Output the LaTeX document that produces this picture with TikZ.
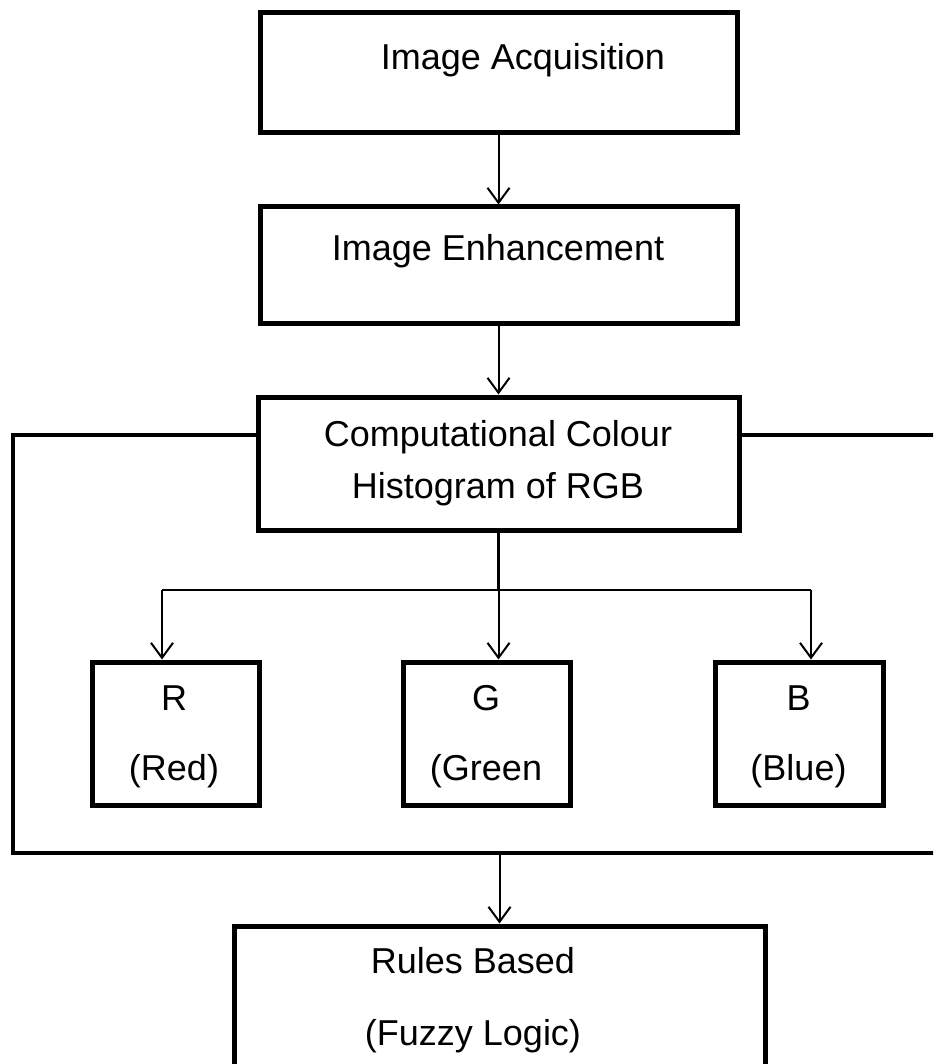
\documentclass[tikz,border=0pt]{standalone}
\usepackage{fontspec}
\setmainfont{Liberation Sans}
\usetikzlibrary{arrows.meta}

\begin{document}
\begin{tikzpicture}[x=0.5pt, y=-0.5pt,
    box/.style={draw, rectangle, line width=2.5pt, inner sep=0pt},
    txt/.style={font=\fontsize{18}{26}\selectfont, anchor=base, inner sep=0pt, align=center},
    arr/.style={-{Straight Barb[length=7.5pt,width=11pt]}, line width=1pt},
    frame/.style={line width=2.3pt},
    split/.style={line width=1.4pt}]
        \useasboundingbox (0,0) rectangle (933,1064);
        \clip (0,0) rectangle (933,1064);

        % Pipeline boxes
        \node at (498.5,73) (acq) [box, minimum width=238.5pt, minimum height=60pt] {};
        \node at (498.5,265) (enh) [box, minimum width=238.5pt, minimum height=58pt] {};
        \node at (498.5,463.5) (hist) [box, minimum width=240.5pt, minimum height=66.5pt] {};

        % Channel boxes
        \node at (175.5,733.5) (red) [box, minimum width=83.5pt, minimum height=71.5pt] {};
        \node at (486.5,733.5) (green) [box, minimum width=83.5pt, minimum height=71.5pt] {};
        \node at (799,733.5) (blue) [box, minimum width=84pt, minimum height=71.5pt] {};

        % Rules box
        \node at (499.5,1013) (rules) [box, minimum width=265.5pt, minimum height=87pt] {};

        % Texts (base is the last line)
        \node at (523,70) (acqtext) [txt] {Image Acquisition};
        \node at (498,260) (enhtext) [txt] {Image Enhancement};
        \node at (498,498) (histtext) [txt] {Computational Colour\\Histogram of RGB};
        \node at (174,780) (redtext) [txt] {R\\[9pt](Red)};
        \node at (486,780) (greentext) [txt] {G\\[9pt](Green};
        \node at (798.5,780) (bluetext) [txt] {B\\[9pt](Blue)};
        \node at (473,1045) (rulestext) [txt] {Rules Based\\[10pt](Fuzzy Logic)};

        % Frame round the histogram stage
        \coordinate (fl) at (13,435);
        \coordinate (fb) at (13,853);
        \coordinate (fr) at (960,435);
        \coordinate (fbr) at (960,853);
        \draw[frame] (hist.west |- fl) -- (fl) -- (fb) -- (fbr);
        \draw[frame] (hist.east |- fr) -- (fr);

        % Split into R, G, B
        \coordinate (sr) at (162,590);
        \coordinate (sg) at (498.5,590);
        \coordinate (sb) at (811,590);
        \draw[split] (hist.south) -- (sg);
        \draw[split] (sr) -- (sb);
        \draw[arr] (sr) -- (sr |- red.north);
        \draw[arr] (sg) -- (sg |- green.north);
        \draw[arr] (sb) -- (sb |- blue.north);

        % Edges
        \draw[arr] (acq.south) -- (enh.north);
        \draw[arr] (enh.south) -- (hist.north);
        \draw[arr] (rules.north |- fb) -- (rules.north);
    \end{tikzpicture}
\end{document}
